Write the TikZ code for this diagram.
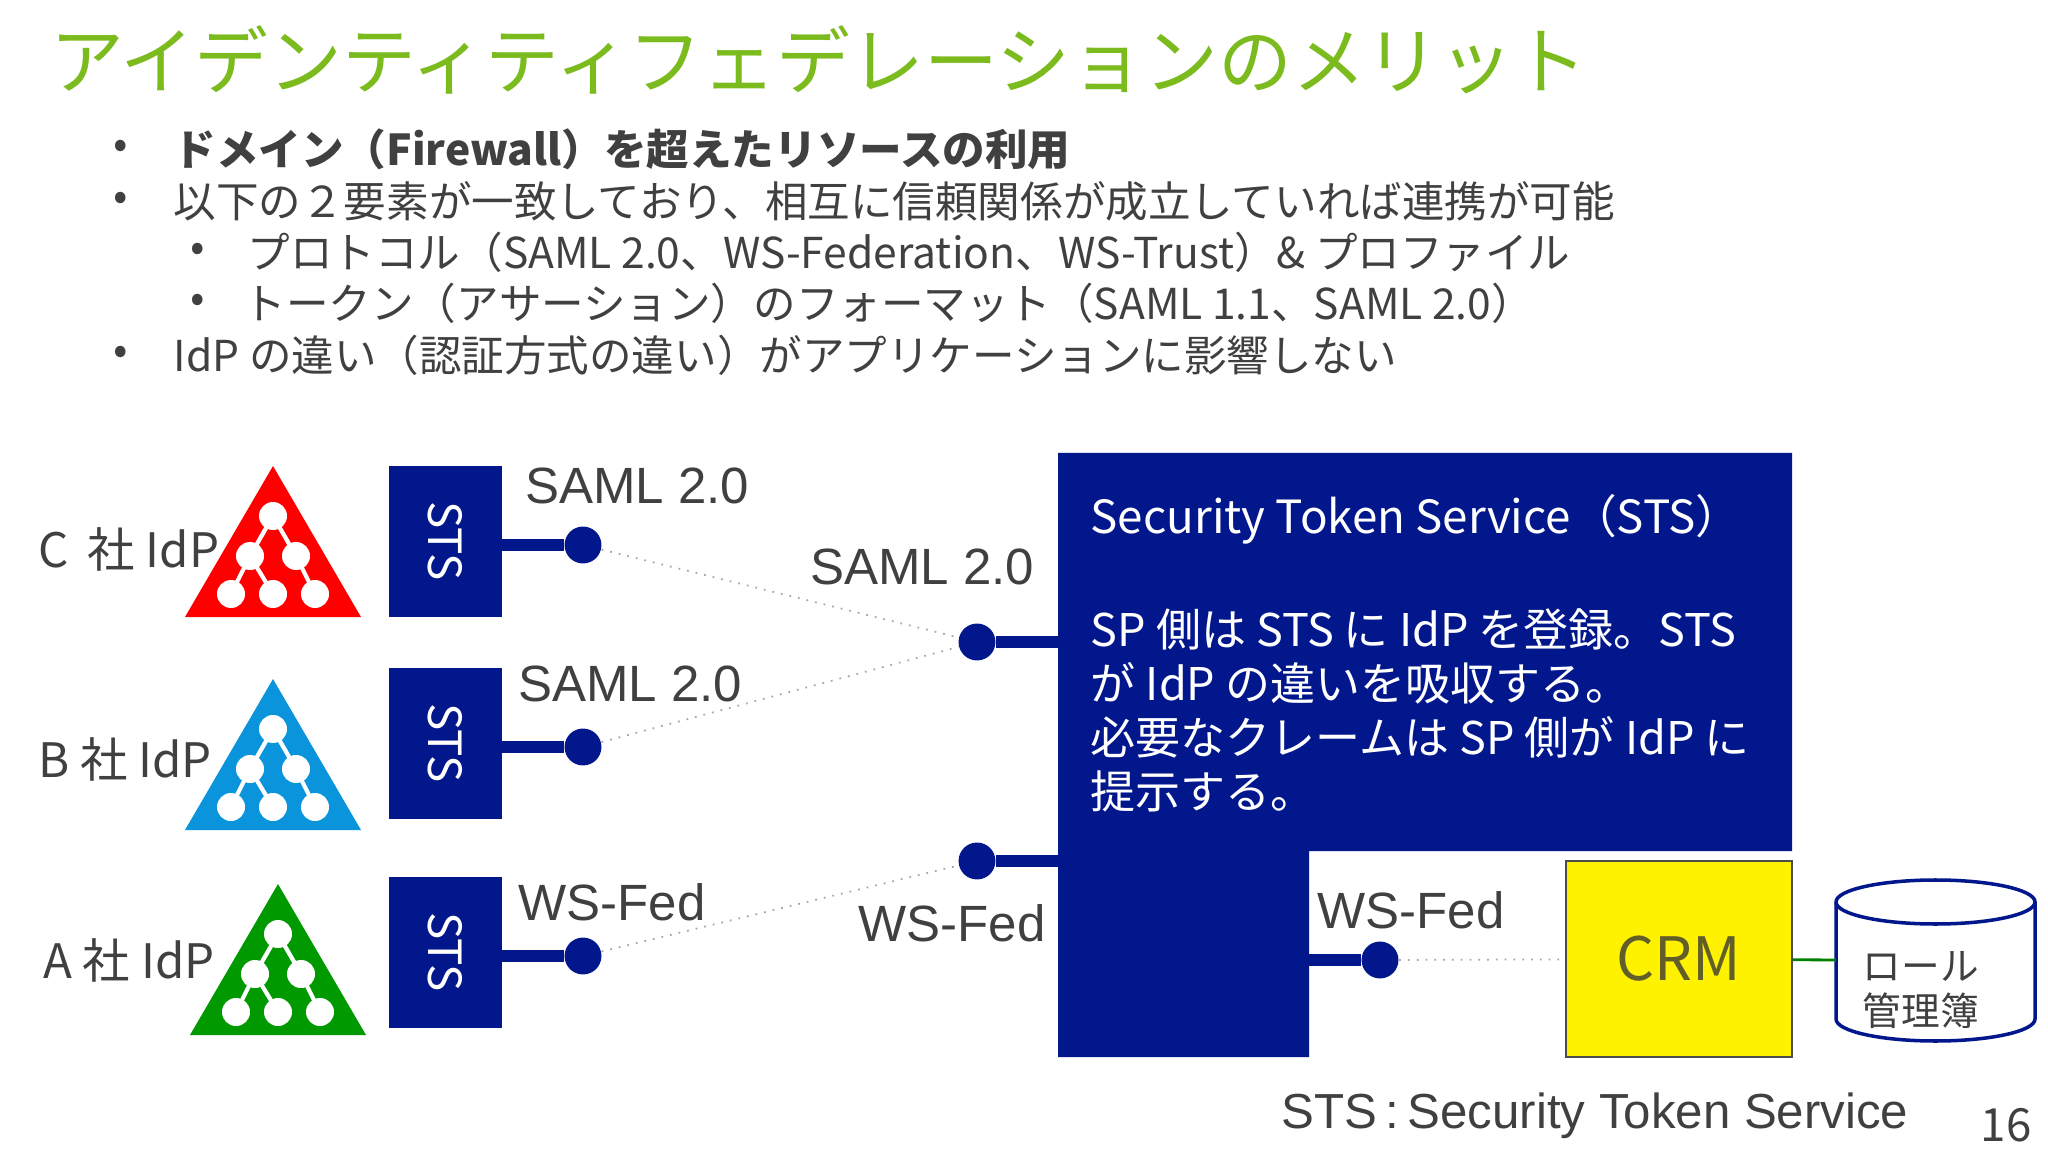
\documentclass[tikz,border=0pt]{standalone}
\usepackage{fontspec}
\setmainfont{Noto Sans CJK JP}
\newfontfamily\arial{Liberation Sans}
\definecolor{stsblue}{HTML}{02178C}
\definecolor{titlegreen}{HTML}{7CBB1E}
\definecolor{txtgray}{HTML}{404040}
\tikzstyle{lbl}=[text=txtgray, font=\arial\fontsize{14.5}{17}\selectfont, inner sep=0pt]
\tikzstyle{idplbl}=[text=txtgray, font=\fontsize{13.5}{16}\selectfont, inner sep=0pt]
\tikzstyle{plug}=[circle, fill=stsblue, inner sep=0pt, minimum size=10.5pt]
\tikzstyle{wire}=[stsblue, line width=3.2pt]
\tikzstyle{dots}=[gray!70, dotted, line width=0.5pt]
\tikzstyle{bul}=[anchor=west, text=txtgray, font=\fontsize{12.1}{14}\selectfont, inner sep=0pt]
\newcommand{\idptree}[3]{% name, apex, colour
  \begin{scope}[shift={#2}]
   \fill[#3] (0,0) -- (88,151) -- (-88,151) -- cycle;
   \draw[white, line width=1.2pt] (0,50) -- (-23,90) -- (-42,128) (-23,90) -- (0,128)
        (0,50) -- (23,90) -- (42,128);
   \foreach \p in {(0,50),(-23,90),(23,90),(-42,128),(0,128),(42,128)}
     \fill[white] \p circle (14);
   \coordinate (#1) at (-88,90);
  \end{scope}}
\begin{document}
\begin{tikzpicture}[x=0.01cm,y=-0.01cm]
   \useasboundingbox (0,0) rectangle (2048,1152);
   \fill[white] (0,0) rectangle (2048,1152);
   % title and bullets
   \node[anchor=west, text=titlegreen, font=\fontsize{21}{24}\selectfont, inner sep=0pt] (title) at (50,60) {アイデンティティフェデレーションのメリット};
   \node[bul] (b1m) at (113,149) {•};
   \node[bul, font=\bfseries\fontsize{12.1}{14}\selectfont] (b1) at (173,149) {ドメイン（Firewall）を超えたリソースの利用};
   \node[bul] (b2m) at (113,201) {•};
   \node[bul] (b2) at (173,201) {以下の２要素が一致しており、相互に信頼関係が成立していれば連携が可能};
   \node[bul] (b3m) at (190,252) {•};
   \node[bul] (b3) at (247,252) {プロトコル（SAML 2.0、WS-Federation、WS-Trust）\& プロファイル};
   \node[bul] (b4m) at (190,303) {•};
   \node[bul] (b4) at (243,303) {トークン（アサーション）のフォーマット（SAML 1.1、SAML 2.0）};
   \node[bul] (b5m) at (113,355) {•};
   \node[bul] (b5) at (173,355) {IdP の違い（認証方式の違い）がアプリケーションに影響しない};

   % IdPs
   \idptree{cidp}{(273,466)}{red}
   \idptree{bidp}{(273,679)}{cyan!80!blue}
   \idptree{aidp}{(278,884)}{green!60!black}
   \node[idplbl] (cl) at (129,549) {C\, 社 IdP};
   \node[idplbl] (bl) at (125,759) {B 社 IdP};
   \node[idplbl] (al) at (129,960) {A 社 IdP};

   % local STS boxes
   \foreach \n/\y in {c/466, b/668, a/877} {
     \fill[stsblue] (389,\y) rectangle (502,\y+151);
     \node[rotate=-90, text=white, font=\fontsize{13}{15}\selectfont] (\n sts) at (445,\y+75) {STS};
     \node[plug] (\n plug) at (583,\y+79) {};
     \draw[wire] (502,\y+79) -- (\n plug);
   }
   \node[lbl] (csaml) at (637,486) {SAML 2.0};
   \node[lbl] (bsaml) at (630,684) {SAML 2.0};
   \node[lbl] (awsf) at (612,902) {WS-Fed};

   % central STS
   \fill[stsblue] (1058,453) -- (1792,453) -- (1792,851) -- (1309,851) -- (1309,1057) -- (1058,1057) -- cycle;
   \node[plug] (splug) at (977,642) {};
   \node[plug] (wplug) at (977,861) {};
   \draw[wire] (splug) -- (1058,642);
   \draw[wire] (wplug) -- (1058,861);
   \node[lbl] (ssaml) at (922,567) {SAML 2.0};
   \node[lbl] (swsf) at (952,923) {WS-Fed};
   \draw[dots] (cplug) -- (splug);
   \draw[dots] (bplug) -- (splug);
   \draw[dots] (aplug) -- (wplug);
   \node[anchor=west, text=white, font=\fontsize{13}{15}\selectfont, inner sep=0pt] (sttl) at (1090,519) {Security Token Service（STS）};
   \node[anchor=north west, text=white, font=\fontsize{12.8}{15.4}\selectfont, inner sep=0pt, align=left] (sdesc) at (1090,608)
     {SP 側は STS に IdP を登録。STS\\が IdP の違いを吸収する。\\必要なクレームは SP 側が IdP に\\提示する。};

   % CRM side
   \node[draw=black!70, fill=yellow, line width=0.5pt, minimum width=2.26cm, minimum height=1.96cm, inner sep=0pt,
         text=olive!60!black, font=\fontsize{17}{20}\selectfont] (crm) at (1679,959) {CRM};
   \node[plug] (crmplug) at (1380,960) {};
   \draw[wire] (1309,960) -- (crmplug);
   \node[lbl] (crmwsf) at (1411,910) {WS-Fed};
   \draw[dots] (crmplug) -- (crm);
   % role database
   \draw[stsblue, line width=1pt, fill=white] (1836,902) -- (1836,1019) arc (180:0:99.5 and 22) -- (2035,902)
        arc (0:-180:99.5 and 22) -- cycle;
   \draw[stsblue, line width=1pt] (1836,902) arc (180:0:99.5 and 22);
   \coordinate (role) at (1836,960);
   \draw[green!50!black, line width=0.8pt] (crm) -- (role);
   \node[text=txtgray, font=\fontsize{11}{13}\selectfont, align=center, inner sep=0pt] (rolet) at (1921,990) {ロール\\管理簿};

   % footer
   \node[text=txtgray, font=\arial\fontsize{14}{17}\selectfont] (foot) at (1595,1116) {STS\,:\,Security Token Service};
   \node[text=txtgray, font=\fontsize{13}{15}\selectfont] (pg) at (2006,1125) {16};
\end{tikzpicture}
\end{document}
